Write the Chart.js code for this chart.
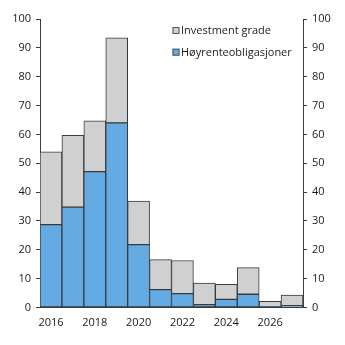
<!DOCTYPE html>
<html>
<head>
<meta charset="utf-8">
<script src="https://cdn.jsdelivr.net/npm/chart.js@4.4.1/dist/chart.umd.min.js"></script>
<style>
  html, body { margin: 0; padding: 0; background: #fff; }
  #wrap { width: 345px; height: 345px; position: relative; }
</style>
</head>
<body>
<div id="wrap"><canvas id="c" width="345" height="345"></canvas></div>
<script>
// Maturing bonds per year, by rating segment
const years = ['2016','2017','2018','2019','2020','2021','2022','2023','2024','2025','2026','2027'];
const highYield = [28.7, 34.8, 47.1, 64.0, 21.8, 6.2, 4.8, 1.0, 2.8, 4.6, 0.3, 0.6];
const investmentGrade = [25.3, 24.9, 17.6, 29.5, 15.1, 10.4, 11.5, 7.5, 5.2, 9.2, 1.8, 3.7];
const yTicks = [0, 10, 20, 30, 40, 50, 60, 70, 80, 90, 100];

const FONT = "'Open Sans', 'Noto Sans', sans-serif";
const AXIS = '#3c3c3c';

// Legend drawn inside the plot area, top right, grey entry first
const insideLegend = {
  id: 'insideLegend',
  afterDraw(chart) {
    const ctx = chart.ctx;
    const items = chart.data.datasets.slice().reverse();
    const x = 172.5, y0 = 30.5, step = 21.7, box = 7;
    ctx.save();
    ctx.font = '11px ' + FONT;
    ctx.textBaseline = 'middle';
    items.forEach((ds, i) => {
      const y = y0 + i * step;
      ctx.fillStyle = ds.backgroundColor;
      ctx.fillRect(x, y - box / 2, box, box);
      ctx.strokeStyle = '#555';
      ctx.lineWidth = 1;
      ctx.strokeRect(x + 0.5, y - box / 2 + 0.5, box - 1, box - 1);
      ctx.fillStyle = '#1a1a1a';
      ctx.fillText(ds.label, x + box + 1.5, y + 0.5);
    });
    ctx.restore();
  }
};

const yAxis = (pos, width) => ({
  position: pos,
  stacked: true,
  min: 0,
  max: 100,
  afterBuildTicks(axis) { axis.ticks = yTicks.map(v => ({ value: v })); },
  afterFit(axis) { axis.width = width; },
  grid: { display: true, drawOnChartArea: false, drawTicks: true, tickLength: 4, color: AXIS, lineWidth: 1 },
  border: { display: true, color: AXIS, width: 1 },
  ticks: { color: '#1a1a1a', font: { family: FONT, size: 11 }, padding: 5 }
});

new Chart(document.getElementById('c'), {
  type: 'bar',
  data: {
    labels: years,
    datasets: [
      {
        label: 'Høyrenteobligasjoner',
        data: highYield,
        backgroundColor: '#63abe2',
        borderColor: '#3a3a3a',
        borderWidth: 1,
        borderSkipped: false,
        stack: 's'
      },
      {
        label: 'Investment grade',
        data: investmentGrade,
        backgroundColor: '#d0d0d0',
        borderColor: '#3a3a3a',
        borderWidth: 1,
        borderSkipped: false,
        stack: 's'
      }
    ]
  },
  options: {
    responsive: false,
    animation: false,
    devicePixelRatio: 1,
    layout: { padding: { top: 19, left: 0, right: 0, bottom: 0 } },
    datasets: { bar: { barPercentage: 1, categoryPercentage: 1 } },
    plugins: { legend: { display: false }, tooltip: { enabled: false } },
    scales: {
      x: {
        stacked: true,
        afterFit(axis) { axis.height = 37.5; },
        grid: { display: false, drawTicks: false },
        border: { display: true, color: AXIS, width: 1 },
        ticks: {
          autoSkip: false,
          maxRotation: 0,
          padding: 9,
          color: '#1a1a1a',
          font: { family: FONT, size: 11 },
          callback(v, i) { return i % 2 === 0 ? years[i] : ''; }
        }
      },
      y: yAxis('left', 40),
      y2: Object.assign(yAxis('right', 42), { stacked: false })
    }
  },
  plugins: [insideLegend]
});
</script>
</body>
</html>
